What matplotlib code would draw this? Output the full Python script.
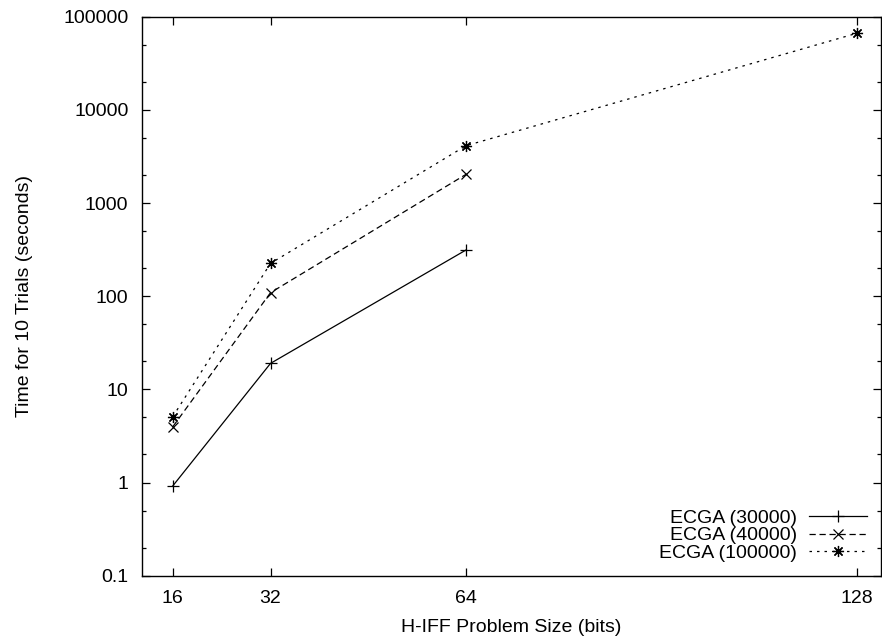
import numpy as np
import matplotlib.pyplot as plt
from matplotlib.ticker import FixedLocator, NullFormatter

plt.rcParams['font.family'] = ['Liberation Sans', 'DejaVu Sans']

# data
sizes = [16, 32, 64, 128]
ecga_30000 = [0.92, 19, 313]
ecga_40000 = [3.97, 109, 2030]
ecga_100000 = [5.1, 225, 4120, 66400]

fig = plt.figure(figsize=(8.82, 6.42), dpi=100)
ax = fig.add_axes([0.1613, 0.1033, 0.8372, 0.8707])

ax.plot(sizes[:3], ecga_30000, color='black', lw=0.9, ls='-',
        marker='+', ms=8, mew=0.9, label='ECGA (30000)')
ax.plot(sizes[:3], ecga_40000, color='black', lw=0.9, ls=(0, (5, 3)),
        marker='x', ms=7, mew=0.9, label='ECGA (40000)')
ax.plot(sizes, ecga_100000, color='black', lw=0.9, ls=(0, (2, 4)),
        marker=(8, 2, 0), ms=8, mew=0.9, label='ECGA (100000)')

ax.set_yscale('log')
ax.set_xlim(11, 131.9)
ax.set_ylim(0.1, 100000)

ax.set_xticks(sizes)
ax.set_xticklabels([str(s) for s in sizes])
yt = [0.1, 1, 10, 100, 1000, 10000, 100000]
ax.yaxis.set_major_locator(FixedLocator(yt))
ax.set_yticklabels(['0.1', '1', '10', '100', '1000', '10000', '100000'])
ax.yaxis.set_minor_locator(FixedLocator([m * 10.0 ** e for e in range(-1, 5) for m in (2, 5)]))
ax.yaxis.set_minor_formatter(NullFormatter())
ax.xaxis.set_minor_locator(FixedLocator([]))

ax.tick_params(which='both', direction='in', top=True, right=True,
               labelsize=14, width=0.9)
ax.tick_params(which='major', length=6, pad=10)
ax.tick_params(which='minor', length=3)
for s in ax.spines.values():
    s.set_linewidth(1.0)

ax.set_xlabel('H-IFF Problem Size (bits)', fontsize=14, labelpad=9)
ax.set_ylabel('Time for 10 Trials (seconds)', fontsize=14, labelpad=22)

leg = ax.legend(loc='lower right', frameon=False, markerfirst=False,
                fontsize=14, handlelength=3.0, handletextpad=0.6,
                labelspacing=0.0, borderaxespad=0.3, numpoints=1)

fig.savefig('out.png', dpi=100)
